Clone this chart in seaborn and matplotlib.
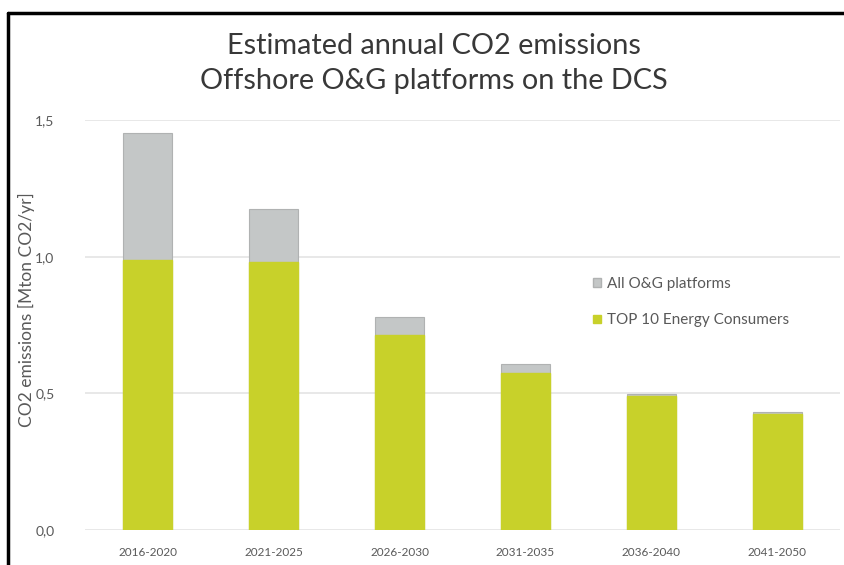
import matplotlib
matplotlib.use("Agg")
import matplotlib.pyplot as plt
import seaborn as sns
import pandas as pd
from matplotlib.lines import Line2D
from matplotlib.patches import Patch

periods = ["2016-2020", "2021-2025", "2026-2030", "2031-2035", "2036-2040", "2041-2050"]
all_platforms = [1.454, 1.176, 0.778, 0.608, 0.499, 0.432]
top10 = [0.988, 0.982, 0.712, 0.575, 0.490, 0.424]
yticks = [0.0, 0.5, 1.0, 1.5]
ytick_labels = ["0,0", "0,5", "1,0", "1,5"]

df = pd.DataFrame({"period": periods, "all": all_platforms, "top10": top10})

sns.set_theme(style="white")
plt.rcParams["font.family"] = ["Lato", "DejaVu Sans"]

gray = "#c4c7c7"
green = "#c8d12a"
txt = "#595959"

fig = plt.figure(figsize=(8.45, 5.65), dpi=100)
ax = fig.add_axes([85/845, 35/565, 755/845, 410/565])

sns.barplot(data=df, x="period", y="all", color=gray, width=0.39, ax=ax,
            edgecolor="#b0b2b2", linewidth=0.8, saturation=1)
sns.barplot(data=df, x="period", y="top10", color=green, width=0.39, ax=ax,
            edgecolor=green, linewidth=1.0, saturation=1)

ax.set_ylim(0, 1.5)
ax.set_xlim(-0.5, 5.5)
ax.set_yticks(yticks)
ax.set_yticklabels(ytick_labels)
for y in yticks:
    ax.axhline(y, color="#e4e4e4", linewidth=1.2, zorder=0)
for s in ax.spines.values():
    s.set_visible(False)
ax.tick_params(axis="both", length=0, labelcolor=txt)
ax.tick_params(axis="x", pad=12, labelsize=8.5)
ax.tick_params(axis="y", pad=22, labelsize=10)
ax.set_xlabel("")
ax.set_ylabel("CO2 emissions [Mton CO2/yr]", fontsize=12.5, color=txt)
ax.yaxis.set_label_coords(-0.066, 0.537)

handles = [Patch(facecolor=gray, edgecolor="#b0b2b2", label="All O&G platforms"),
           Patch(facecolor=green, edgecolor=green, label="TOP 10 Energy Consumers")]
leg = ax.legend(handles=handles, loc="upper left", bbox_to_anchor=(0.655, 0.65),
                frameon=False, fontsize=11, labelspacing=1.45, handlelength=0.5,
                handleheight=0.5, handletextpad=0.4)
for t in leg.get_texts():
    t.set_color(txt)

fig.text(0.513, 0.918, "Estimated annual CO2 emissions", ha="center", va="center",
         fontsize=20.8, color="#383838")
fig.text(0.513, 0.856, "Offshore O&G platforms on the DCS", ha="center", va="center",
         fontsize=20.8, color="#383838")

# outer frame (top and left borders)
fig.add_artist(Line2D([8/845, 1.0], [1 - 13/565, 1 - 13/565], color="black",
                      linewidth=2.5, transform=fig.transFigure))
fig.add_artist(Line2D([8/845, 8/845], [0, 1 - 13/565], color="black",
                      linewidth=2.5, transform=fig.transFigure))

fig.savefig("out.png", dpi=100)
